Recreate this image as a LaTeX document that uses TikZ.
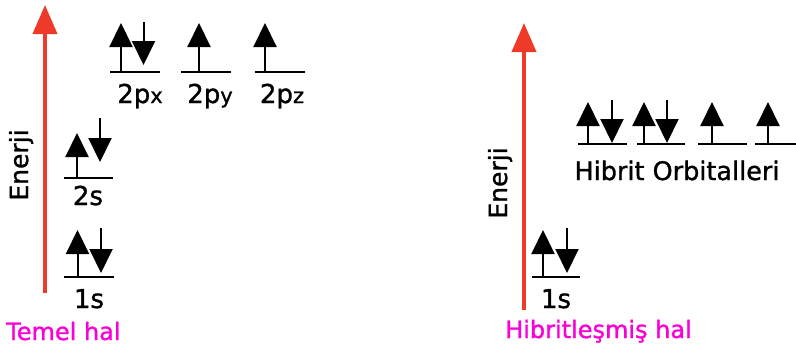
\documentclass[tikz,border=0pt]{standalone}
\usepackage{fontspec}
\setmainfont[FakeBold=1.2,AutoFakeBold=1.2]{DejaVu Sans}
\usetikzlibrary{arrows.meta}
\definecolor{enred}{RGB}{238,58,40}
\definecolor{stmag}{RGB}{250,0,215}
\begin{document}
\begin{tikzpicture}[x=1pt,y=-1pt,
  level/.style={line width=2.6pt},
  elec/.style={line width=2pt,-{Triangle[length=24pt,width=23pt]}},
  axis/.style={enred,line width=4pt,-{Triangle[length=29pt,width=24pt]}},
  lbl/.style={font=\fontsize{26}{26}\selectfont\bfseries,anchor=base,inner sep=0pt},
  orb/.style={font=\fontsize{25.5}{25.5}\selectfont\bfseries,anchor=base,inner sep=0pt},
  state/.style={stmag,font=\fontsize{24}{24}\selectfont\bfseries,anchor=base west,inner sep=0pt},
  enj/.style={font=\fontsize{25}{25}\selectfont\bfseries,rotate=90,anchor=base,inner sep=0pt}]
\useasboundingbox (0,0) rectangle (796,348);

% ---------- left: ground state ----------
\coordinate (axLb) at (45,293);
\coordinate (axLt) at (45,5);
\draw[axis] (axLb) -- (axLt);
\node[enj] (enL) at (28,165) {Enerji};

% 1s
\draw[level] (64,277) -- (114,277);
\draw[elec] (77.5,276) -- (77.5,230);
\draw[elec] (101,228) -- (101,273);
\node[lbl] (s1L) at (89,308) {1s};

% 2s
\draw[level] (64,178) -- (113,178);
\draw[elec] (77,177) -- (77,133);
\draw[elec] (100,118) -- (100,162);
\node[lbl] (s2L) at (88,205) {2s};

% 2p
\draw[level] (110,72) -- (160,72);
\draw[level] (181,72) -- (231,72);
\draw[level] (255,72) -- (305,72);
\draw[elec] (121,71) -- (121,23);
\draw[elec] (143.5,22) -- (143.5,65);
\draw[elec] (199,71) -- (199,23);
\draw[elec] (265,71) -- (265,23);
\node[lbl] (px) at (140,103) {2p{\fontsize{21}{21}\selectfont x}};
\node[lbl] (py) at (210,103) {2p{\fontsize{21}{21}\selectfont y}};
\node[lbl] (pz) at (282,103) {2p{\fontsize{21}{21}\selectfont z}};

\node[state] (temel) at (6,340) {Temel hal};

% ---------- right: hybridised state ----------
\coordinate (axRb) at (524,310);
\coordinate (axRt) at (524,23);
\draw[axis] (axRb) -- (axRt);
\node[enj] (enR) at (507,183) {Enerji};

% hybrid orbitals
\draw[level] (578,144) -- (627,144);
\draw[level] (637,144) -- (685,144);
\draw[level] (698,144) -- (747,144);
\draw[level] (755,144) -- (800,144);
\draw[elec] (588,143) -- (588,102);
\draw[elec] (612,100) -- (612,143);
\draw[elec] (644,143) -- (644,102);
\draw[elec] (667,100) -- (667,143);
\draw[elec] (712,143) -- (712,102);
\draw[elec] (768,143) -- (768,102);
\node[orb] (hyb) at (677,180) {Hibrit Orbitalleri};

% 1s
\draw[level] (532,277) -- (580,277);
\draw[elec] (543,276) -- (543,230);
\draw[elec] (567,228) -- (567,273);
\node[lbl] (s1R) at (556,308) {1s};

\node[state] (hibrit) at (505,338) {Hibritleşmiş hal};
\end{tikzpicture}
\end{document}
